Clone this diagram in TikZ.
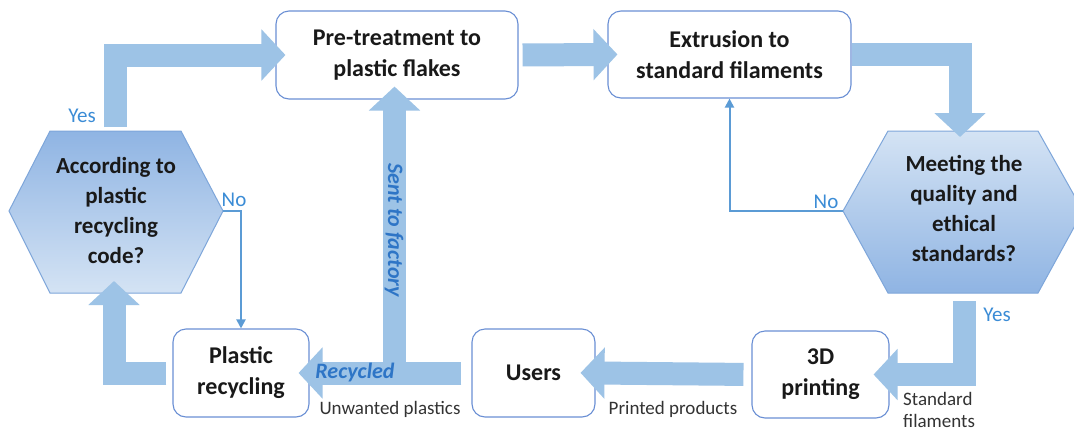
\documentclass[tikz,border=0pt]{standalone}
\usepackage{fontspec}
\setmainfont{Carlito}
\usetikzlibrary{arrows.meta,calc}
\definecolor{arrowblue}{HTML}{9DC3E6}
\definecolor{lineblue}{HTML}{5B9BD5}
\definecolor{boxedge}{HTML}{6A8FD4}
\definecolor{hexedge}{HTML}{7EA6DA}
\definecolor{hexdark}{HTML}{8FB4E3}
\definecolor{hexlight}{HTML}{D4E3F4}
\definecolor{labelblue}{HTML}{3B8CD6}
\definecolor{italblue}{HTML}{2E75C6}
\definecolor{greytext}{HTML}{333333}
\begin{document}
\begin{tikzpicture}[x=1pt,y=-1pt,
  procbox/.style={draw=boxedge, line width=1.1pt, rounded corners=13pt, fill=white, align=center, inner sep=0pt, font=\bfseries\fontsize{24}{31}\selectfont, text=black!90},
  hextext/.style={align=center, inner sep=0pt, font=\bfseries\fontsize{23}{30}\selectfont, text=black!90},
  hexshape/.style={draw=hexedge, line width=1pt},
  bigarrow/.style={draw=arrowblue, line width=23pt, line join=miter, -{Triangle[width=50pt,length=24pt]}},
  thinarrow/.style={draw=lineblue, line width=2pt, -{Triangle[width=9pt,length=9pt]}},
  yesno/.style={text=labelblue, font=\fontsize{21}{24}\selectfont, inner sep=0pt},
  smalllabel/.style={text=greytext, font=\fontsize{19}{22}\selectfont, inner sep=0pt},
  flowlabel/.style={text=italblue, font=\bfseries\itshape\fontsize{22}{24}\selectfont, inner sep=0pt}
]
\useasboundingbox (0,0) rectangle (1074,432);
\fill[white] (0,0) rectangle (1074,432);

% hexagons
\path[hexshape, top color=hexdark, bottom color=hexlight]
  (9,211) -- (50,131) -- (181,131) -- (223,211) -- (181,293) -- (50,293) -- cycle;
\begin{scope}
\clip (0,0) rectangle (1074,432);
\path[hexshape, top color=hexlight, bottom color=hexdark]
  (843,211) -- (888,131) -- (1038,131) -- (1083,211) -- (1038,293) -- (888,293) -- cycle;
\end{scope}
\node[hextext] (hexL) at (116,211) {According to\\plastic\\recycling\\code?};
\node[hextext] (hexR) at (964,208) {Meeting the\\quality and\\ethical\\standards?};
\coordinate (hexLtop) at (115,131);
\coordinate (hexLbot) at (114,293);
\coordinate (hexLright) at (223,211);
\coordinate (hexRleft) at (843,211);
\coordinate (hexRtop) at (960,131);
\coordinate (hexRbot) at (964,293);

% process boxes
\node[procbox, minimum width=242pt, minimum height=88pt] (PT) at (397,55) {Pre-treatment to\\plastic flakes};
\node[procbox, minimum width=243pt, minimum height=87pt] (Ext) at (729.5,54.5) {Extrusion to\\standard filaments};
\node[procbox, minimum width=136pt, minimum height=88pt] (PR) at (241,373) {Plastic\\recycling};
\node[procbox, minimum width=123pt, minimum height=88pt] (Users) at (533.5,373) {Users};
\node[procbox, minimum width=137pt, minimum height=87pt] (D3) at (820.5,374.5) {3D\\printing};

% thick connectors
\draw[bigarrow, shorten <=4pt, shorten >=-10pt] (hexLtop) |- (PT.west);
\draw[bigarrow, shorten <=4pt, shorten >=-10pt] (PT.east) -- (Ext.west);
\draw[bigarrow, shorten >=-6pt] (Ext.east) -| (hexRtop);
\draw[bigarrow, shorten <=8pt, shorten >=-16pt] (hexRbot) |- (D3.east);
\draw[bigarrow, shorten <=8pt, shorten >=-15pt] (D3.west) -- (Users.east);
\coordinate (junc) at (394.5,384);
\draw[bigarrow, shorten >=-13pt] (junc) -- (junc |- PT.south);
\draw[bigarrow, shorten <=10pt, shorten >=-11pt] (Users.west) -- (PR.east);
\draw[bigarrow, shorten <=6pt, shorten >=-12pt] (PR.west) -| (hexLbot);

% thin connectors
\draw[thinarrow] (hexLright) -| (PR.north);
\draw[thinarrow] (hexRleft) -| (Ext.south);

% labels
\node[yesno] (yesL) at (82,116) {Yes};
\node[yesno] (noL) at (234,200) {No};
\node[yesno] (noR) at (826,202) {No};
\node[yesno] (yesR) at (997,315) {Yes};
\node[smalllabel, align=left, anchor=west] (stdfil) at (903,410) {Standard\\filaments};
\node[smalllabel] (printed) at (673,409) {Printed products};
\node[smalllabel] (unwanted) at (390,409) {Unwanted plastics};
\node[flowlabel] (recycled) at (355,373) {Recycled};
\node[flowlabel, rotate=-90] (sent) at (394,230) {Sent to factory};
\end{tikzpicture}
\end{document}
